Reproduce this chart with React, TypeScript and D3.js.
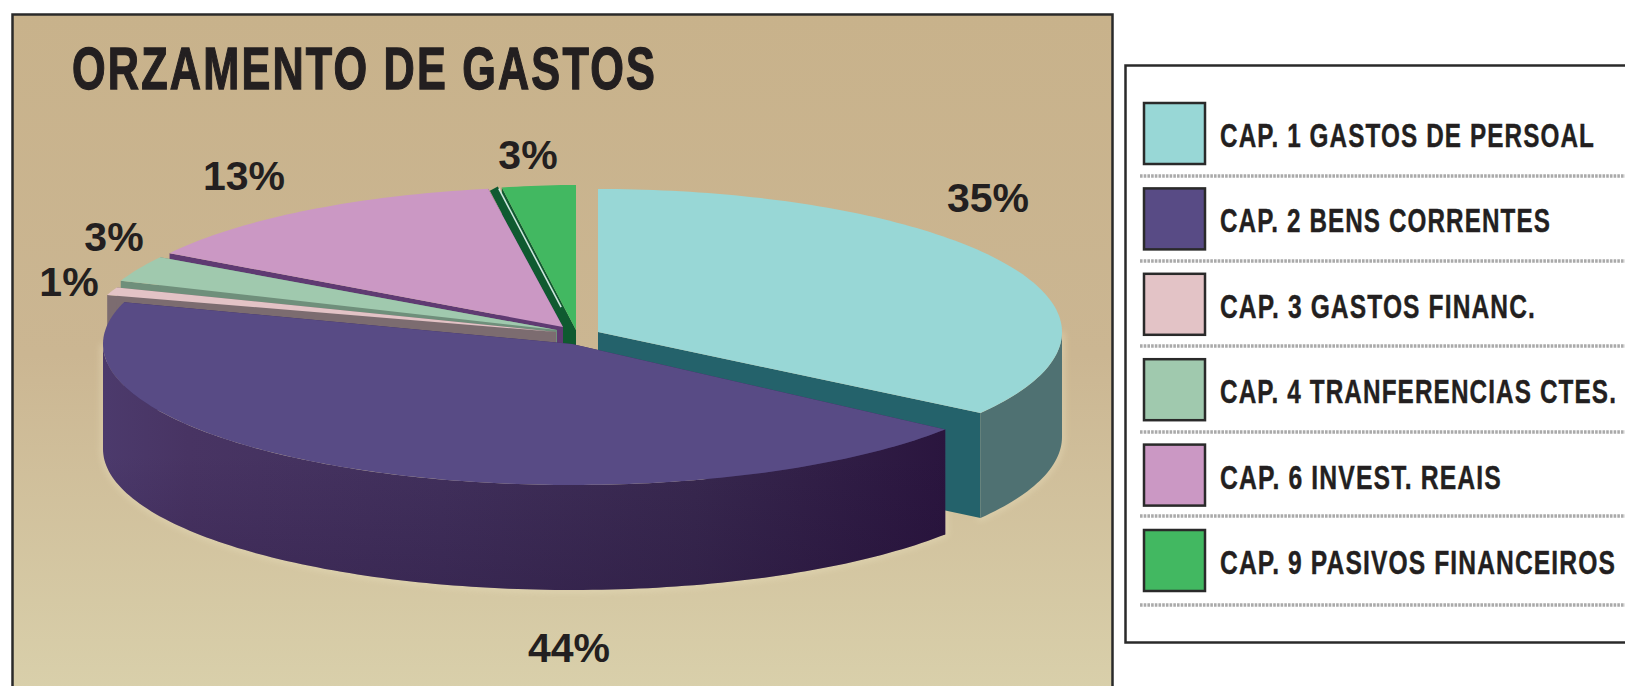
import React from 'react';
import * as d3 from 'd3';

// chart values
const categories = [
  'CAP. 1 GASTOS DE PERSOAL',
  'CAP. 2 BENS CORRENTES',
  'CAP. 3 GASTOS FINANC.',
  'CAP. 4 TRANFERENCIAS CTES.',
  'CAP. 6 INVEST. REAIS',
  'CAP. 9 PASIVOS FINANCEIROS',
];
const percents = [35, 44, 1, 3, 13, 3];
const title = 'ORZAMENTO DE GASTOS';

// colours per slice
const topColours = ['#98d7d6', '#584b85', '#e3c3c6', '#a0c9ae', '#cb98c4', '#42b861'];
const wallColours = ['#4f7172', 'url(#purpleWall)', '#7c6c70', '#7a9a86', '#8a5c90', '#1f7a42'];
const cutColours = ['#24626b', '#3c2c5c', '#7c6c70', '#6f8f7b', '#5f3a72', '#0f5a30'];

// each slice is pulled apart a little, with its own ellipse: [cx, cy, rx, ry]
const sliceShapes: [number, number, number, number][] = [
  [598, 332, 464, 143],
  [572, 344, 469, 141],
  [556, 332, 470, 125],
  [557, 330, 467, 138],
  [563, 327, 463, 140],
  [576, 330, 392, 145],
];
// the perspective of the original moves some slice ends a bit, in degrees
const endNudge = [-2.8, 0, 0, 0, 1.6, 0];
// back slices are painted first
const drawOrder = [5, 4, 3, 2, 0, 1];

const labelSpots: [number, number][] = [
  [988, 212],
  [569, 662],
  [69, 296],
  [114, 251],
  [244, 190],
  [528, 169],
];

const depth = 105;
const ROW_H = 85.4;
const ruleYs = [176, 261, 346, 432, 516, 605];
const legendWidths = [375, 331, 316, 397, 282, 396];

const pieLayout = d3.pie<number>().sort(null);
const slices = pieLayout(percents).map((s, i) => ({
  ...s,
  endAngle: s.endAngle + (endNudge[i] * Math.PI) / 180,
}));

function point(i: number, a: number, drop = 0): [number, number] {
  const [cx, cy, rx, ry] = sliceShapes[i];
  return [cx + rx * Math.sin(a), cy - ry * Math.cos(a) + drop];
}

function sample(a0: number, a1: number): number[] {
  const n = Math.max(2, Math.ceil(Math.abs(a1 - a0) / 0.02));
  return d3.range(n + 1).map(k => a0 + ((a1 - a0) * k) / n);
}

const line = d3.line();

function topPath(i: number): string {
  const s = slices[i];
  const [cx, cy] = sliceShapes[i];
  const pts = sample(s.startAngle, s.endAngle).map(a => point(i, a));
  return line([[cx, cy], ...pts])! + 'Z';
}

// outer wall, only the part of the rim that faces the viewer
function wallPath(i: number): string | null {
  const s = slices[i];
  const left = Math.PI * 1.5;
  const right = Math.PI * 0.5;
  let a0 = s.startAngle;
  let a1 = s.endAngle;
  if (a1 <= right || a0 >= left) return null;
  a0 = Math.max(a0, right);
  a1 = Math.min(a1, left);
  const pts = sample(a0, a1);
  const upper = pts.map(a => point(i, a));
  const lower = pts.slice().reverse().map(a => point(i, a, depth));
  return line([...upper, ...lower])! + 'Z';
}

function cutPath(i: number, a: number): string {
  const [cx, cy] = sliceShapes[i];
  const p = point(i, a);
  const q = point(i, a, depth);
  return line([[cx, cy], p, q, [cx, cy + depth]])! + 'Z';
}

// dark band and pale highlight running down the cut edge of the green slice
const lastIdx = slices.length - 1;
const edgeStart = point(lastIdx, slices[lastIdx].startAngle);
const edgeEnd: [number, number] = [
  edgeStart[0] + (sliceShapes[lastIdx][0] - edgeStart[0]) * 0.84,
  edgeStart[1] + (sliceShapes[lastIdx][1] - edgeStart[1]) * 0.84,
];

const App: React.FC = () => {
  return (
    <svg
      width={1625}
      height={686}
      style={{ position: 'absolute', left: 0, top: 0, display: 'block' }}
    >
      <defs>
        <linearGradient id="panelBg" x1="0" y1="0" x2="0" y2="1">
          <stop offset="0" stopColor="#c8b28b" />
          <stop offset="0.5" stopColor="#cbb692" />
          <stop offset="1" stopColor="#d9d0ab" />
        </linearGradient>
        <linearGradient id="purpleWall" gradientUnits="userSpaceOnUse" x1="104" y1="0" x2="948" y2="0">
          <stop offset="0" stopColor="#4c3a6c" />
          <stop offset="0.1" stopColor="#483463" />
          <stop offset="0.4" stopColor="#41305c" />
          <stop offset="0.7" stopColor="#38284f" />
          <stop offset="1" stopColor="#2a153e" />
        </linearGradient>
        <linearGradient id="wallShade" x1="0" y1="0" x2="0" y2="1">
          <stop offset="0.45" stopColor="#1c0a30" stopOpacity={0} />
          <stop offset="1" stopColor="#1c0a30" stopOpacity={0.22} />
        </linearGradient>
        <filter id="halo" x="-5%" y="-5%" width="110%" height="110%">
          <feGaussianBlur stdDeviation="3" />
        </filter>
      </defs>

      <rect width={1625} height={686} fill="#ffffff" />

      <rect x={12.5} y={14.5} width={1100} height={680} fill="url(#panelBg)" stroke="#2a2a2a" strokeWidth={2.5} />

      <text
        x={72}
        y={89}
        fontFamily="'Liberation Sans', Arial, sans-serif"
        fontWeight={700}
        fontSize={60}
        letterSpacing={3}
        textLength={585}
        lengthAdjust="spacingAndGlyphs"
        fill="#231f20"
        stroke="#231f20"
        strokeWidth={1.3}
      >
        {title}
      </text>

      {/* pale rim round the pie */}
      <g filter="url(#halo)" opacity={0.4}>
        <path d={wallPath(0) ?? ''} fill="none" stroke="#f1e8c6" strokeWidth={5} />
        <path d={wallPath(1) ?? ''} fill="none" stroke="#f1e8c6" strokeWidth={5} />
      </g>

      {drawOrder.map(i => {
        const s = slices[i];
        const wall = wallPath(i);
        return (
          <g key={categories[i]}>
            <path d={cutPath(i, s.startAngle)} fill={cutColours[i]} />
            <path d={cutPath(i, s.endAngle)} fill={cutColours[i]} />
            {wall && <path d={wall} fill={wallColours[i]} />}
            {wall && i === 1 && <path d={wall} fill="url(#wallShade)" />}
            <path d={topPath(i)} fill={topColours[i]} />
            {i === lastIdx && (
              <>
                <line
                  x1={edgeStart[0] - 8}
                  y1={edgeStart[1] + 1}
                  x2={edgeEnd[0] - 8}
                  y2={edgeEnd[1]}
                  stroke={cutColours[i]}
                  strokeWidth={9}
                />
                <line
                  x1={edgeStart[0] - 3}
                  y1={edgeStart[1] + 1}
                  x2={edgeEnd[0] - 3}
                  y2={edgeEnd[1]}
                  stroke="#cfe6df"
                  strokeWidth={1.6}
                />
              </>
            )}
          </g>
        );
      })}

      {percents.map((p, i) => (
        <text
          key={`label-${categories[i]}`}
          x={labelSpots[i][0]}
          y={labelSpots[i][1]}
          textAnchor="middle"
          fontFamily="'Liberation Sans', Arial, sans-serif"
          fontWeight={700}
          fontSize={41}
          fill="#231f20"
        >
          {`${p}%`}
        </text>
      ))}

      {/* legend */}
      <rect x={1125.5} y={65.5} width={520} height={577} fill="#ffffff" stroke="#2a2a2a" strokeWidth={2.5} />
      {categories.map((c, i) => {
        const y = 103 + i * ROW_H;
        return (
          <g key={`legend-${c}`}>
            <rect x={1144} y={y} width={61} height={61} fill={topColours[i]} stroke="#2a2a2a" strokeWidth={2.5} />
            <text
              x={1220}
              y={y + 44}
              fontFamily="'Liberation Sans', Arial, sans-serif"
              fontWeight={700}
              fontSize={33}
              letterSpacing={1.5}
              textLength={legendWidths[i]}
              lengthAdjust="spacingAndGlyphs"
              fill="#231f20"
              stroke="#231f20"
              strokeWidth={0.4}
            >
              {c}
            </text>
            <line
              x1={1140}
              x2={1625}
              y1={ruleYs[i]}
              y2={ruleYs[i]}
              stroke="#aaaaaa"
              strokeWidth={3.5}
              strokeDasharray="2.6 1.1"
            />
          </g>
        );
      })}
    </svg>
  );
};

export default App;
